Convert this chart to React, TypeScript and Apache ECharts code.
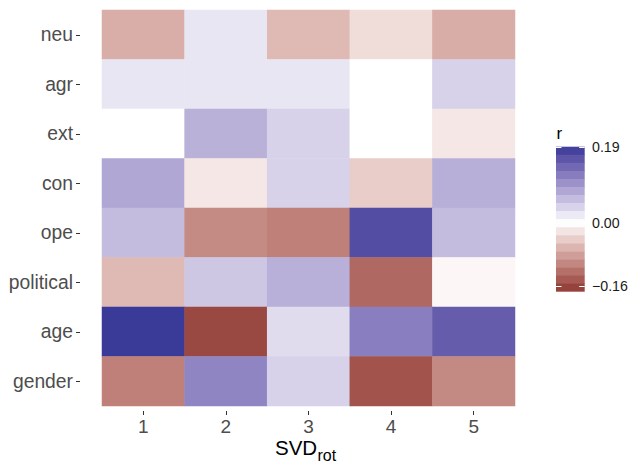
import React, { useEffect, useRef } from "react";
import * as echarts from "echarts";

// ---- data ----
const svdCats = ["1", "2", "3", "4", "5"];
const traitCats = ["neu", "agr", "ext", "con", "ope", "political", "age", "gender"];

const neu = [-0.069, 0.022, -0.059, -0.029, -0.07];
const agr = [0.022, 0.022, 0.022, 0.0, 0.04];
const ext = [0.0, 0.07, 0.04, 0.0, -0.02];
const con = [0.08, -0.02, 0.04, -0.042, 0.072];
const ope = [0.06, -0.1, -0.109, 0.169, 0.06];
const political = [-0.059, 0.05, 0.071, -0.13, -0.007];
const age = [0.19, -0.16, 0.031, 0.119, 0.153];
const gender = [-0.109, 0.112, 0.04, -0.15, -0.101];

const legendBreaks = [0.19, 0.0, -0.16];
const legendLabels = ["0.19", "0.00", "\u22120.16"];

// ---- colour helpers (Lab interpolation like ggplot gradient2) ----
const LOW = "#832424";
const HIGH = "#3A3A98";
const LIMIT = 0.19;

function hexToRgb(h: string) {
  const n = parseInt(h.slice(1), 16);
  return [(n >> 16) & 255, (n >> 8) & 255, n & 255];
}
function toLin(c: number) {
  c /= 255;
  return c <= 0.04045 ? c / 12.92 : Math.pow((c + 0.055) / 1.055, 2.4);
}
function fromLin(c: number) {
  const v = c <= 0.0031308 ? 12.92 * c : 1.055 * Math.pow(c, 1 / 2.4) - 0.055;
  return Math.max(0, Math.min(255, Math.round(v * 255)));
}
const Xn = 0.95047, Yn = 1.0, Zn = 1.08883;
function f(t: number) {
  return t > 0.008856 ? Math.cbrt(t) : 7.787 * t + 16 / 116;
}
function finv(t: number) {
  const t3 = t * t * t;
  return t3 > 0.008856 ? t3 : (t - 16 / 116) / 7.787;
}
function rgbToLab(rgb: number[]) {
  const [r, g, b] = rgb.map(toLin);
  const X = 0.4124 * r + 0.3576 * g + 0.1805 * b;
  const Y = 0.2126 * r + 0.7152 * g + 0.0722 * b;
  const Z = 0.0193 * r + 0.1192 * g + 0.9505 * b;
  const fx = f(X / Xn), fy = f(Y / Yn), fz = f(Z / Zn);
  return [116 * fy - 16, 500 * (fx - fy), 200 * (fy - fz)];
}
function labToHex(lab: number[]) {
  const fy = (lab[0] + 16) / 116;
  const fx = fy + lab[1] / 500;
  const fz = fy - lab[2] / 200;
  const X = Xn * finv(fx), Y = Yn * finv(fy), Z = Zn * finv(fz);
  const r = 3.2406 * X - 1.5372 * Y - 0.4986 * Z;
  const g = -0.9689 * X + 1.8758 * Y + 0.0415 * Z;
  const b = 0.0557 * X - 0.204 * Y + 1.057 * Z;
  const hx = (c: number) => fromLin(c).toString(16).padStart(2, "0");
  return "#" + hx(r) + hx(g) + hx(b);
}
const labWhite = rgbToLab([255, 255, 255]);
const labLow = rgbToLab(hexToRgb(LOW));
const labHigh = rgbToLab(hexToRgb(HIGH));
function colorAt(v: number) {
  const t = Math.min(1, Math.abs(v) / LIMIT);
  const tgt = v < 0 ? labLow : labHigh;
  return labToHex(labWhite.map((w, i) => w + (tgt[i] - w) * t));
}

const FONT = "Liberation Sans, Arial, sans-serif";

export default function App() {
  const ref = useRef<HTMLDivElement>(null);
  useEffect(() => {
    if (!ref.current) return;
    const chart = echarts.init(ref.current, undefined, { renderer: "svg" });
    const rows = [neu, agr, ext, con, ope, political, age, gender];
    const data: number[][] = [];
    rows.forEach((row, yi) => row.forEach((v, xi) => data.push([xi, yi, v])));

    const stops: string[] = [];
    for (let i = 0; i <= 38; i++) stops.push(colorAt(-LIMIT + i * 0.01));

    // legend geometry
    const lgX = 556, lgW = 28.7, lgTop = 146.7, lgBot = 291.7;
    const nStripe = 18;
    const sh = (lgBot - lgTop) / nStripe;
    const yOf = (v: number) => 222.6 - v * 396.3;
    const vOf = (y: number) => (222.6 - y) / 396.3;
    const els: any[] = [];
    for (let k = 0; k < nStripe; k++) {
      const y0 = lgTop + k * sh;
      els.push({
        type: "rect",
        shape: { x: lgX, y: y0, width: lgW, height: k === nStripe - 1 ? sh : sh + 0.4 },
        style: { fill: colorAt(vOf(y0 + sh / 2)) },
        silent: true,
      });
    }
    legendBreaks.forEach((b, i) => {
      const y = Math.round(yOf(b)) + 0.5;
      els.push({
        type: "line",
        shape: { x1: lgX, y1: y, x2: lgX + 5.5, y2: y },
        style: { stroke: "#ffffff", lineWidth: 1 },
      });
      els.push({
        type: "line",
        shape: { x1: lgX + lgW - 5.5, y1: y, x2: lgX + lgW, y2: y },
        style: { stroke: "#ffffff", lineWidth: 1 },
      });
      els.push({
        type: "text",
        x: 592,
        y: yOf(b),
        style: {
          text: legendLabels[i],
          fontSize: 14.2,
          fontFamily: FONT,
          fill: "#1a1a1a",
          verticalAlign: "middle",
          align: "left",
        },
      });
    });
    els.push({
      type: "text",
      x: 556.5,
      y: 133,
      style: { text: "r", fontSize: 17, fontFamily: FONT, fill: "#000000", verticalAlign: "middle", align: "left" },
    });
    // x-axis title with subscript
    els.push({
      type: "text",
      x: 275,
      y: 447.6,
      style: { text: "SVD", fontSize: 20.5, fontFamily: FONT, fill: "#000000", verticalAlign: "middle", align: "left" },
    });
    els.push({
      type: "text",
      x: 317.5,
      y: 455.5,
      style: { text: "rot", fontSize: 16, fontFamily: FONT, fill: "#000000", verticalAlign: "middle", align: "left" },
    });

    chart.setOption({
      animation: false,
      backgroundColor: "#ffffff",
      grid: { left: 102, right: 115, top: 10, bottom: 58, containLabel: false },
      xAxis: {
        type: "category",
        data: svdCats,
        offset: 5,
        axisLine: { show: false },
        axisTick: { show: true, length: 4, alignWithLabel: true, lineStyle: { color: "#333333" } },
        axisLabel: { fontSize: 19, color: "#4d4d4d", margin: 6, fontFamily: FONT },
        splitLine: { show: false },
      },
      yAxis: {
        type: "category",
        data: traitCats,
        inverse: true,
        offset: 22,
        axisLine: { show: false },
        axisTick: { show: true, length: 4, alignWithLabel: true, lineStyle: { color: "#333333" } },
        axisLabel: { fontSize: 19.3, color: "#4d4d4d", margin: 7, fontFamily: FONT },
        splitLine: { show: false },
      },
      visualMap: {
        type: "continuous",
        show: false,
        min: -LIMIT,
        max: LIMIT,
        dimension: 2,
        inRange: { color: stops },
      },
      series: [
        {
          type: "heatmap",
          data,
          itemStyle: { borderWidth: 0 },
          emphasis: { disabled: true },
        },
      ],
      graphic: els,
    });
    return () => chart.dispose();
  }, []);
  return <div ref={ref} style={{ width: 630, height: 464, position: "absolute", left: 0, top: 0 }} />;
}
